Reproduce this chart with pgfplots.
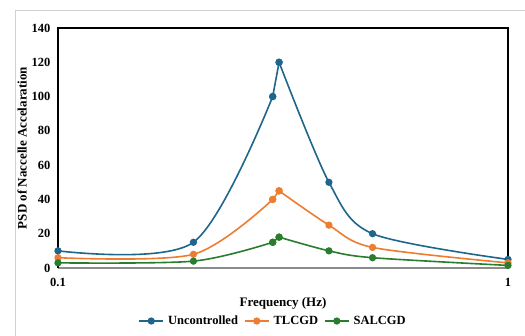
\documentclass[border=0pt]{standalone}
\usepackage{pgfplots}
\pgfplotsset{compat=1.18}
\usepackage{fontspec}
\setmainfont{Liberation Serif}
\definecolor{cU}{HTML}{1F668C}
\definecolor{cT}{HTML}{ED7D31}
\definecolor{cS}{HTML}{2A7D2E}
\begin{document}
\begin{tikzpicture}[x=1pt,y=1pt]
\useasboundingbox (0,0) rectangle (525,336);
\fill[white] (0,0) rectangle (525,336);
\draw[black!18, line width=0.8pt] (15,0) -- (15,326) -- (525,326);
\begin{axis}[
  at={(58pt,68pt)}, anchor=south west,
  scale only axis, width=450pt, height=240pt,
  xmode=log, xmin=0.1, xmax=1, ymin=0, ymax=140,
  xtick={0.1,1}, xticklabels={0.1,1},
  ytick={0,20,...,140},
  minor xtick={}, major tick length=0pt, minor tick length=0pt,
  axis line style={draw=none},
  /pgf/number format/assume math mode=true,
  ticklabel style={font=\fontsize{12.5}{14}\selectfont\bfseries},
  xticklabel style={yshift=-7pt},
  yticklabel style={xshift=-4pt},
  xlabel={Frequency (Hz)},
  ylabel={PSD of Naccelle Accelaration},
  label style={font=\fontsize{13}{15}\selectfont\bfseries},
  xlabel style={yshift=-4pt},
  ylabel style={yshift=-2pt},
  legend columns=3,
  legend style={at={(0.478,-0.221)}, anchor=center, draw=none, fill=none,
    font=\fontsize{12.5}{14}\selectfont\bfseries, column sep=4pt,
    /tikz/every odd column/.append style={column sep=2pt}},
  legend image code/.code={\draw[#1, mark repeat=2, mark phase=2] plot coordinates {(0pt,0pt) (12pt,0pt) (24pt,0pt)};},
  every axis plot/.append style={line width=1.6pt, mark=*, mark size=2.8pt},
  clip=false,
]
% Uncontrolled
\addplot[cU, smooth, mark options={fill=cU}] coordinates {(0.1,10) (0.2,15) (0.3,100)};
\addlegendentry{Uncontrolled}
\addplot[cT, smooth, mark options={fill=cT}] coordinates {(0.1,6) (0.2,8) (0.3,40)};
\addlegendentry{TLCGD}
\addplot[cS, smooth, mark options={fill=cS}] coordinates {(0.1,3) (0.2,4) (0.3,15)};
\addlegendentry{SALCGD}
\addplot[cU, mark options={fill=cU}, forget plot] coordinates {(0.3,100) (0.31,120)};
\addplot[cU, smooth, mark options={fill=cU}, forget plot] coordinates {(0.31,120) (0.4,50) (0.5,20) (1,5)};
\addplot[cT, mark options={fill=cT}, forget plot] coordinates {(0.3,40) (0.31,45)};
\addplot[cT, smooth, mark options={fill=cT}, forget plot] coordinates {(0.31,45) (0.4,25) (0.5,12) (1,3)};
\addplot[cS, mark options={fill=cS}, forget plot] coordinates {(0.3,15) (0.31,18)};
\addplot[cS, smooth, mark options={fill=cS}, forget plot] coordinates {(0.31,18) (0.4,10) (0.5,6) (1,1.5)};
\draw[black!45, line width=1.2pt] (rel axis cs:0,0) -- (rel axis cs:1,0);
\draw[black, line width=1.3pt] (rel axis cs:0,0) -- (rel axis cs:0,1) -- (rel axis cs:1,1) -- (rel axis cs:1,0);
\end{axis}
\end{tikzpicture}
\end{document}
